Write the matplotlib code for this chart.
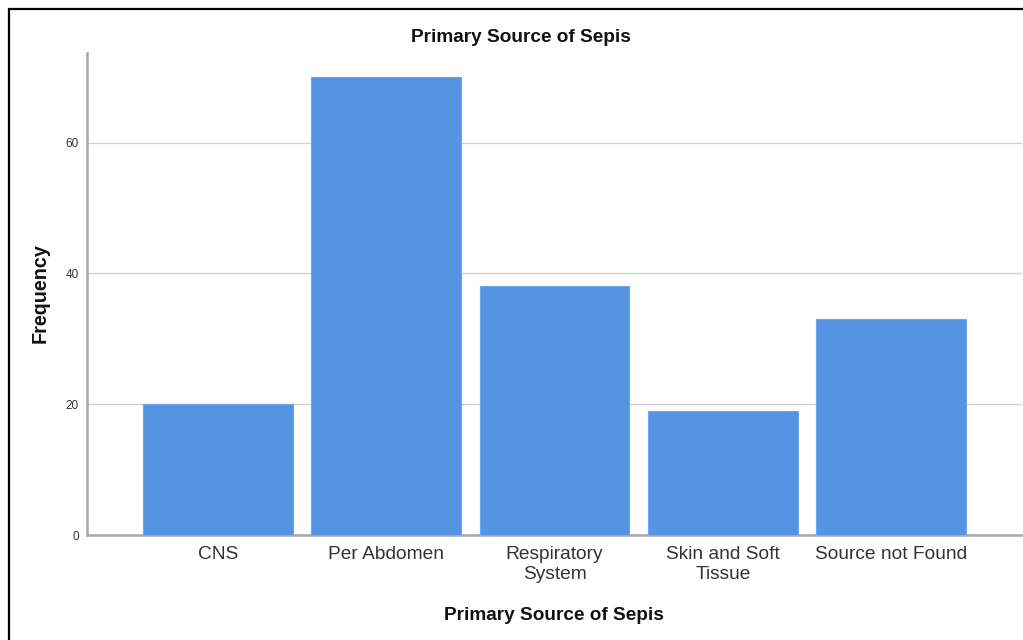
import matplotlib
matplotlib.use("Agg")
import matplotlib.pyplot as plt
from matplotlib.lines import Line2D

# ── DATA ─────────────────────────────────────────────────────────────
categories = ["CNS", "Per Abdomen", "Respiratory\nSystem",
              "Skin and Soft\nTissue", "Source not Found"]
frequency = [20, 70, 38, 19, 33]
y_ticks = [0, 20, 40, 60]

# ── STYLE ────────────────────────────────────────────────────────────
BAR = '#5494e3'
BAR_EDGE = '#6da6ec'
AXIS = '#a8a8a8'
GRID = '#d2d2d2'
TEXT = '#333333'
plt.rcParams['font.family'] = ['Liberation Sans', 'DejaVu Sans']

W, H = 1023, 640
fig = plt.figure(figsize=(W / 100, H / 100), dpi=100, facecolor='white')
ax = fig.add_axes([87 / W, 1 - 535 / H, (1022 - 87) / W, (535 - 53) / H])

x = range(len(categories))
ax.bar(x, frequency, width=0.89, color=BAR, edgecolor=BAR_EDGE,
       linewidth=0.8, zorder=3)

ax.set_xlim(-0.778, 4.777)
ax.set_ylim(0, 73.7)
ax.set_yticks(y_ticks)
ax.set_yticklabels([str(v) for v in y_ticks], fontsize=8.5, color=TEXT)
ax.set_xticks(list(x))
ax.set_xticklabels(categories, fontsize=13.8, color=TEXT, linespacing=1.22)
ax.tick_params(axis='both', length=0)
ax.tick_params(axis='x', pad=8)
ax.tick_params(axis='y', pad=6)

for side in ('top', 'right'):
    ax.spines[side].set_visible(False)
for side in ('left', 'bottom'):
    ax.spines[side].set_color(AXIS)
    ax.spines[side].set_linewidth(1.8)
ax.spines['bottom'].set_zorder(2)
ax.grid(axis='y', color=GRID, linewidth=1, zorder=1)
ax.set_axisbelow(True)

# titles
fig.text(521 / W, 1 - 38 / H, "Primary Source of Sepis", ha='center',
         va='center', fontsize=13.7, fontweight='bold', color='#111111')
fig.text(554 / W, 1 - 615 / H, "Primary Source of Sepis", ha='center',
         va='center', fontsize=13.7, fontweight='bold', color='#111111')
fig.text(40 / W, 1 - 293 / H, "Frequency", ha='center', va='center',
         rotation=90, fontsize=14.2, fontweight='bold', color='#111111')

# outer frame (only left and top edges are visible)
fig.add_artist(Line2D([8.5 / W, 8.5 / W, 1], [0, 1 - 8.5 / H, 1 - 8.5 / H],
                      transform=fig.transFigure, color='black', lw=1.6,
                      solid_joinstyle='miter'))

fig.savefig("out.png", dpi=100, facecolor='white')
